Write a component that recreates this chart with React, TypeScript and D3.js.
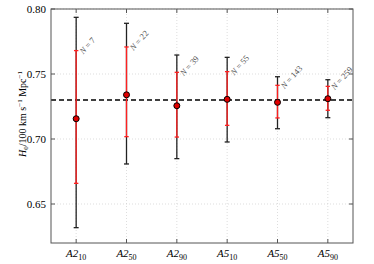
import React, { useEffect, useRef } from "react";
import * as d3 from "d3";

// sample labels (main part + subscript)
const groups = ["A2", "A2", "A2", "A5", "A5", "A5"];
const subs = ["10", "50", "90", "10", "50", "90"];
const counts = [7, 22, 39, 55, 143, 259];

// H0 estimates and error bars
const h0 = [0.7156, 0.734, 0.7256, 0.7305, 0.7282, 0.731];
const blackLo = [0.6318, 0.6808, 0.6849, 0.6977, 0.7079, 0.7164];
const blackHi = [0.7936, 0.789, 0.7646, 0.7628, 0.7479, 0.7456];
const redLo = [0.6659, 0.7018, 0.7015, 0.7105, 0.7162, 0.7221];
const redHi = [0.768, 0.7708, 0.7513, 0.7518, 0.7413, 0.7405];

const refLine = 0.73;
const yTicks = [0.65, 0.7, 0.75, 0.8];

const W = 374;
const H = 264;
const margin = { left: 51, right: 21, top: 9, bottom: 21 };

const App = () => {
  const svgRef = useRef<SVGSVGElement>(null);

  useEffect(() => {
    const svg = d3.select(svgRef.current);
    svg.selectAll("*").remove();
    const font = "'Liberation Serif', 'DejaVu Serif', serif";

    const x = d3
      .scaleLinear()
      .domain([-0.5, 5.5])
      .range([margin.left, W - margin.right]);
    const y = d3
      .scaleLinear()
      .domain([0.62, 0.8])
      .range([H - margin.bottom, margin.top]);

    const g = svg.append("g");

    // grid
    yTicks.forEach((t) => {
      g.append("line")
        .attr("x1", x(-0.5))
        .attr("x2", x(5.5))
        .attr("y1", y(t))
        .attr("y2", y(t))
        .attr("stroke", "#c8c8c8")
        .attr("stroke-width", 0.6)
        .attr("stroke-dasharray", "1,2");
    });
    subs.forEach((_, i) => {
      g.append("line")
        .attr("x1", x(i))
        .attr("x2", x(i))
        .attr("y1", y(0.62))
        .attr("y2", y(0.8))
        .attr("stroke", "#c8c8c8")
        .attr("stroke-width", 0.6)
        .attr("stroke-dasharray", "1,2");
    });

    // reference line
    g.append("line")
      .attr("x1", x(-0.5))
      .attr("x2", x(5.5))
      .attr("y1", y(refLine))
      .attr("y2", y(refLine))
      .attr("stroke", "#000")
      .attr("stroke-width", 1.5)
      .attr("stroke-dasharray", "5,3");

    const bar = (i: number, lo: number, hi: number, color: string, cap: number) => {
      g.append("line")
        .attr("x1", x(i))
        .attr("x2", x(i))
        .attr("y1", y(lo))
        .attr("y2", y(hi))
        .attr("stroke", color)
        .attr("stroke-width", 1.3);
      [lo, hi].forEach((v) => {
        g.append("line")
          .attr("x1", x(i) - cap)
          .attr("x2", x(i) + cap)
          .attr("y1", y(v))
          .attr("y2", y(v))
          .attr("stroke", color)
          .attr("stroke-width", 1.3);
      });
    };

    h0.forEach((v, i) => {
      bar(i, blackLo[i], blackHi[i], "#222", 2.5);
      bar(i, redLo[i], redHi[i], "#ff2020", 2.2);
      g.append("circle")
        .attr("cx", x(i))
        .attr("cy", y(v))
        .attr("r", 3)
        .attr("fill", "#e00000")
        .attr("stroke", "#000")
        .attr("stroke-width", 1);

      g.append("text")
        .attr("transform", `translate(${x(i) + 7},${y(redHi[i]) + 4}) rotate(-48)`)
        .attr("font-family", font)
        .attr("font-size", 8.5)
        .attr("fill", "#555")
        .html(`<tspan font-style="italic">N</tspan> = ${counts[i]}`);
    });

    // frame
    g.append("rect")
      .attr("x", x(-0.5))
      .attr("y", y(0.8))
      .attr("width", x(5.5) - x(-0.5))
      .attr("height", y(0.62) - y(0.8))
      .attr("fill", "none")
      .attr("stroke", "#555")
      .attr("stroke-width", 1);

    // ticks (inward, both sides)
    yTicks.forEach((t) => {
      g.append("line").attr("x1", x(-0.5)).attr("x2", x(-0.5) + 4)
        .attr("y1", y(t)).attr("y2", y(t)).attr("stroke", "#555");
      g.append("line").attr("x1", x(5.5)).attr("x2", x(5.5) - 4)
        .attr("y1", y(t)).attr("y2", y(t)).attr("stroke", "#555");
      g.append("text")
        .attr("x", x(-0.5) - 5)
        .attr("y", y(t))
        .attr("dy", "0.35em")
        .attr("text-anchor", "end")
        .attr("font-family", font)
        .attr("font-size", 11)
        .text(t.toFixed(2));
    });
    subs.forEach((s, i) => {
      g.append("line").attr("x1", x(i)).attr("x2", x(i))
        .attr("y1", y(0.62)).attr("y2", y(0.62) - 4).attr("stroke", "#555");
      g.append("line").attr("x1", x(i)).attr("x2", x(i))
        .attr("y1", y(0.8)).attr("y2", y(0.8) + 4).attr("stroke", "#555");
      g.append("text")
        .attr("x", x(i))
        .attr("y", y(0.62) + 14)
        .attr("text-anchor", "middle")
        .attr("font-family", font)
        .attr("font-size", 11)
        .attr("fill", "#000")
        .html(
          `<tspan font-style="italic">${groups[i]}</tspan><tspan dy="3" font-size="8">${s}</tspan>`
        );
    });

    // y label
    g.append("text")
      .attr("transform", `translate(26,114) rotate(-90)`)
      .attr("text-anchor", "middle")
      .attr("font-family", font)
      .attr("font-size", 10)
      .html(
        `<tspan font-style="italic">H</tspan><tspan dy="2" font-size="7">0</tspan><tspan dy="-2">/100 km s</tspan><tspan dy="-4" font-size="7">−1</tspan><tspan dy="4"> Mpc</tspan><tspan dy="-4" font-size="7">−1</tspan>`
      );
  }, []);

  return (
    <svg
      ref={svgRef}
      width={W}
      height={H}
      style={{ position: "absolute", left: 0, top: 0, background: "#fff" }}
    />
  );
};

export default App;
